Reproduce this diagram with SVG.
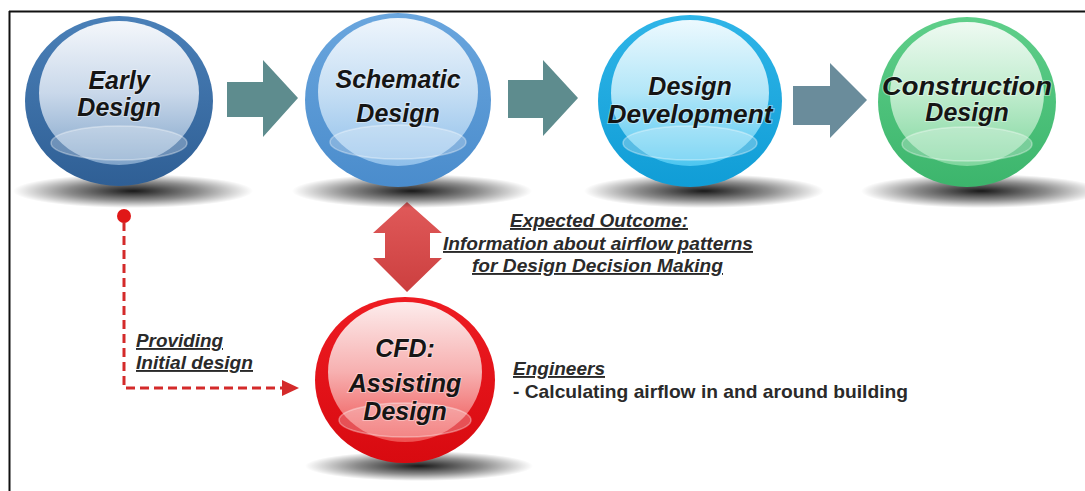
<svg xmlns="http://www.w3.org/2000/svg" width="1085" height="491" viewBox="0 0 1085 491">
<defs>
<style>
.ntxt{font-family:"Liberation Sans",Arial,sans-serif;font-weight:bold;font-style:italic;font-size:25px;fill:#151515;text-anchor:middle;stroke:rgba(255,255,255,0.4);stroke-width:2;paint-order:stroke}
.lbl{font-family:"Liberation Sans",Arial,sans-serif;font-weight:bold;font-style:italic;font-size:19px;fill:#2a2a2a;text-decoration:underline}
.plain{font-family:"Liberation Sans",Arial,sans-serif;font-weight:bold;font-size:19px;fill:#2a2a2a}
.band{fill:#ffffff;fill-opacity:0.28;stroke:#ffffff;stroke-opacity:0.35;stroke-width:1.5}
</style>
<radialGradient id="shadow" cx="0.5" cy="0.5" r="0.5">
<stop offset="0" stop-color="#000" stop-opacity="0.9"/>
<stop offset="0.55" stop-color="#000" stop-opacity="0.45"/>
<stop offset="1" stop-color="#000" stop-opacity="0"/>
</radialGradient>
<linearGradient id="oBlue1" x1="0" y1="0" x2="0" y2="1"><stop offset="0" stop-color="#4a80b8"/><stop offset="1" stop-color="#2f5f95"/></linearGradient>
<linearGradient id="iBlue1" x1="0" y1="0" x2="0" y2="1"><stop offset="0" stop-color="#f4f7fb"/><stop offset="0.5" stop-color="#c9d8ea"/><stop offset="1" stop-color="#7fa3c9"/></linearGradient>
<linearGradient id="oBlue2" x1="0" y1="0" x2="0" y2="1"><stop offset="0" stop-color="#6aa6de"/><stop offset="1" stop-color="#4a8ccc"/></linearGradient>
<linearGradient id="iBlue2" x1="0" y1="0" x2="0" y2="1"><stop offset="0" stop-color="#eef5fc"/><stop offset="0.5" stop-color="#c5def4"/><stop offset="1" stop-color="#8fbfea"/></linearGradient>
<linearGradient id="oCyan" x1="0" y1="0" x2="0" y2="1"><stop offset="0" stop-color="#2fb5e8"/><stop offset="1" stop-color="#109dd6"/></linearGradient>
<linearGradient id="iCyan" x1="0" y1="0" x2="0" y2="1"><stop offset="0" stop-color="#ecf9fe"/><stop offset="0.5" stop-color="#b2e6f8"/><stop offset="1" stop-color="#4cc6f0"/></linearGradient>
<linearGradient id="oGreen" x1="0" y1="0" x2="0" y2="1"><stop offset="0" stop-color="#5fcf8a"/><stop offset="1" stop-color="#3cb56c"/></linearGradient>
<linearGradient id="iGreen" x1="0" y1="0" x2="0" y2="1"><stop offset="0" stop-color="#eefaf2"/><stop offset="0.5" stop-color="#bfeccd"/><stop offset="1" stop-color="#7fd69d"/></linearGradient>
<linearGradient id="oRed" x1="0" y1="0" x2="0" y2="1"><stop offset="0" stop-color="#ee1c22"/><stop offset="1" stop-color="#d80a10"/></linearGradient>
<linearGradient id="iRed" x1="0" y1="0" x2="0" y2="1"><stop offset="0" stop-color="#fdecec"/><stop offset="0.5" stop-color="#f7b0b0"/><stop offset="1" stop-color="#ee5050"/></linearGradient>
<linearGradient id="redArrow" x1="0" y1="0" x2="0" y2="1"><stop offset="0" stop-color="#e05a5a"/><stop offset="1" stop-color="#cc3f3f"/></linearGradient>
</defs>

<rect x="0" y="0" width="1085" height="491" fill="#ffffff"/>
<g id="frame" stroke="#111" stroke-width="2" fill="none">
<line x1="9" y1="11.5" x2="1085" y2="11.5"/>
<line x1="9.5" y1="11" x2="9.5" y2="491"/>
</g>

<g id="connectors">
<polygon points="227,82 263,82 263,60 298,98 263,137 263,117 227,117" fill="#5e8c8e"/>
<polygon points="508,80 543,80 543,60 578,98 543,136 543,118 508,118" fill="#5e8c8e"/>
<polygon points="793,86 830,86 830,63 867,100 830,138 830,125 793,125" fill="#6a8c9b"/>
<polygon points="407,202 442,233 430,233 430,258 442,258 407,292 373,258 385,258 385,233 373,233" fill="url(#redArrow)"/>
<circle cx="124" cy="216" r="7" fill="#e01818"/>
<path d="M124,222 V388 H284" fill="none" stroke="#d42a2a" stroke-width="3" stroke-dasharray="9 5"/>
<polygon points="282,380 299,388 282,396" fill="#d42a2a"/>
</g>

<g id="early-design" transform="translate(119,101)">
<ellipse cx="14" cy="90" rx="120" ry="17" fill="url(#shadow)"/>
<ellipse cx="0" cy="0" rx="94" ry="85" fill="url(#oBlue1)"/>
<ellipse cx="0" cy="-8" rx="80" ry="72" fill="url(#iBlue1)"/>
<ellipse class="band" cx="0" cy="42" rx="68" ry="17"/>
<text class="ntxt" x="0" y="-12">Early</text>
<text class="ntxt" x="0" y="15">Design</text>
</g>

<g id="schematic-design" transform="translate(398,100)">
<ellipse cx="14" cy="91" rx="120" ry="17" fill="url(#shadow)"/>
<ellipse cx="0" cy="0" rx="93" ry="87" fill="url(#oBlue2)"/>
<ellipse cx="0" cy="-8" rx="80" ry="74" fill="url(#iBlue2)"/>
<ellipse class="band" cx="0" cy="42" rx="68" ry="17"/>
<text class="ntxt" x="0" y="-12">Schematic</text>
<text class="ntxt" x="0" y="22">Design</text>
</g>

<g id="design-development" transform="translate(690,101)">
<ellipse cx="14" cy="90" rx="120" ry="17" fill="url(#shadow)"/>
<ellipse cx="0" cy="0" rx="92" ry="86" fill="url(#oCyan)"/>
<ellipse cx="0" cy="-8" rx="79" ry="73" fill="url(#iCyan)"/>
<ellipse class="band" cx="0" cy="42" rx="67" ry="17"/>
<text class="ntxt" x="0" y="-6">Design</text>
<text class="ntxt" x="0" y="22" textLength="165" lengthAdjust="spacingAndGlyphs">Development</text>
</g>

<g id="construction-design" transform="translate(967,102)">
<ellipse cx="14" cy="89" rx="120" ry="17" fill="url(#shadow)"/>
<ellipse cx="0" cy="0" rx="89" ry="85" fill="url(#oGreen)"/>
<ellipse cx="0" cy="-8" rx="77" ry="72" fill="url(#iGreen)"/>
<ellipse class="band" cx="0" cy="42" rx="65" ry="17"/>
<text class="ntxt" x="0" y="-7" textLength="170" lengthAdjust="spacingAndGlyphs">Construction</text>
<text class="ntxt" x="0" y="19">Design</text>
</g>

<g id="cfd-assisting-design" transform="translate(405,380)">
<ellipse cx="14" cy="86" rx="114" ry="15" fill="url(#shadow)"/>
<ellipse cx="0" cy="0" rx="90" ry="83" fill="url(#oRed)"/>
<ellipse cx="0" cy="-8" rx="77" ry="70" fill="url(#iRed)"/>
<ellipse class="band" cx="0" cy="40" rx="66" ry="17"/>
<text class="ntxt" x="0" y="-23">CFD:</text>
<text class="ntxt" x="0" y="12">Assisting</text>
<text class="ntxt" x="0" y="40">Design</text>
</g>

<g id="labels">
<text class="lbl" x="136" y="347" textLength="87" lengthAdjust="spacingAndGlyphs">Providing</text>
<text class="lbl" x="136" y="369" textLength="117" lengthAdjust="spacingAndGlyphs">Initial design</text>
<text class="lbl" x="510" y="227" textLength="178" lengthAdjust="spacingAndGlyphs">Expected Outcome:</text>
<text class="lbl" x="443" y="250" textLength="310" lengthAdjust="spacingAndGlyphs">Information about airflow patterns</text>
<text class="lbl" x="472" y="272" textLength="251" lengthAdjust="spacingAndGlyphs">for Design Decision Making</text>
<text class="lbl" x="513" y="375" textLength="92" lengthAdjust="spacingAndGlyphs">Engineers</text>
<text class="plain" x="513" y="398" textLength="395" lengthAdjust="spacingAndGlyphs">- Calculating airflow in and around building</text>
</g>
</svg>
